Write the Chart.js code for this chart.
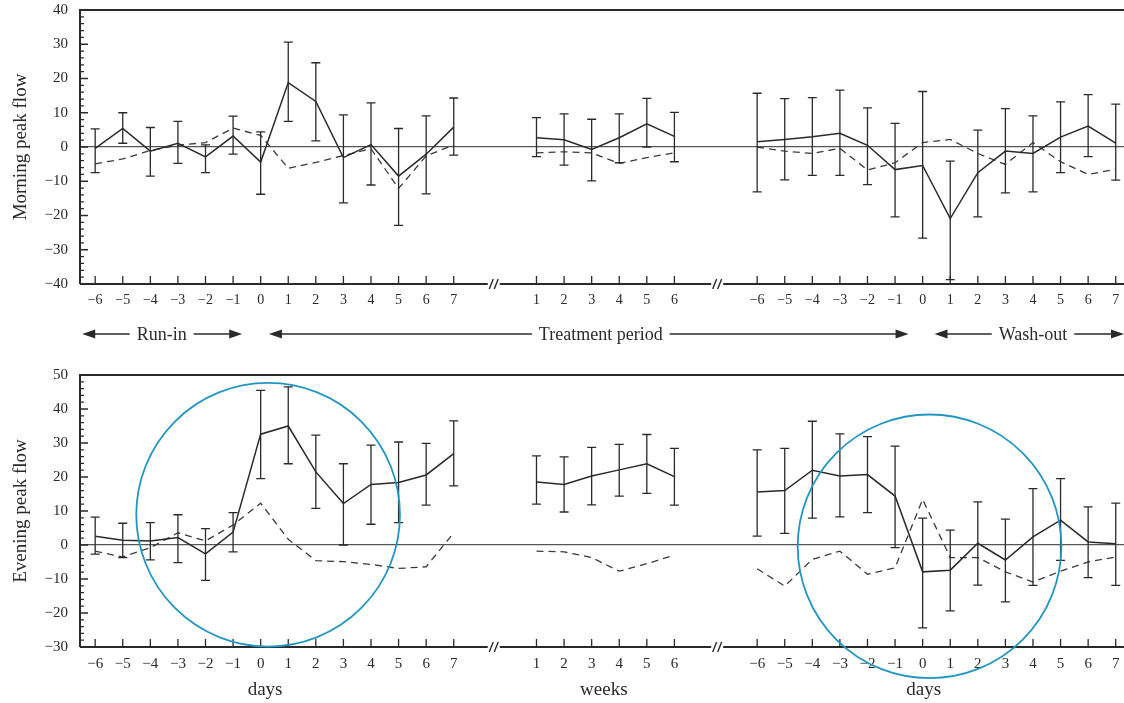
<!DOCTYPE html>
<html>
<head>
<meta charset="utf-8">
<script src="https://cdn.jsdelivr.net/npm/chart.js@4.4.1/dist/chart.umd.min.js"></script>
<style>
  body { margin: 0; background: #fff; }
  #wrap { position: relative; width: 1124px; height: 703px; }
  .panel { position: absolute; left: 0; width: 1124px; }
</style>
</head>
<body>
<div id="wrap">
  <div class="panel" style="top:0;height:355px"><canvas id="morning"></canvas></div>
  <div class="panel" style="top:355px;height:348px"><canvas id="evening"></canvas></div>
</div>
<script>
const FONT = "'Liberation Serif', 'DejaVu Serif', serif";
const INK = '#2a2a2a';

// x axis: run-in/treatment days, treatment weeks, wash-out days
const dayLabels = ['−6', '−5', '−4', '−3', '−2', '−1', '0', '1', '2', '3', '4', '5', '6', '7'];
const weekLabels = ['1', '2', '3', '4', '5', '6'];
const segmentLabels = [dayLabels, weekLabels, dayLabels];
const segmentStarts = [0, 16, 24];
const breakAt = [14.45, 22.55];

// morning peak flow (solid = mean with error bars, dashed = comparison)
const morningMean = [-0.4, 5.4, -1.2, 1.1, -2.9, 3.2, -4.4, 18.8, 13.3, -3.1, 0.7, -8.5, -2.1, 5.8,
  2.7, 2.1, -0.7, 2.7, 6.8, 3.1,
  1.5, 2.2, 3.0, 4.0, 0.5, -6.6, -5.4, -20.9, -7.5, -1.2, -1.9, 2.9, 6.1, 1.1];
const morningHigh = [5.3, 10, 5.7, 7.5, 0.6, 9, 4.4, 30.6, 24.6, 9.4, 12.9, 5.4, 9.1, 14.3,
  8.6, 9.7, 8.1, 9.7, 14.2, 10.1,
  15.7, 14.1, 14.4, 16.6, 11.4, 6.9, 16.2, -4.1, 4.9, 11.2, 9.1, 13.2, 15.3, 12.5];
const morningLow = [-7.5, 1.1, -8.5, -4.8, -7.5, -2.1, -13.8, 7.5, 1.8, -16.3, -11.1, -22.9, -13.7, -2.4,
  -2.8, -5.3, -9.9, -4.6, 0, -4.3,
  -13.1, -9.6, -8.3, -8.3, -11.0, -20.4, -26.6, -38.7, -20.4, -13.4, -13.1, -7.5, -2.8, -9.7];
const morningDashed = [-4.9, -3.5, -1.0, 0.5, 1.3, 5.5, 3.4, -6.2, -4.5, -2.5, -0.5, -12.1, -2.6, 0.6,
  -1.7, -1.4, -1.7, -4.8, -3.1, -1.7,
  0, -1.2, -1.9, -0.4, -6.7, -4.6, 1.3, 2.2, -1.9, -5.1, 1.3, -4.3, -8.0, -6.5];

// evening peak flow
const eveningMean = [2.6, 1.4, 1.2, 2.2, -2.6, 3.8, 32.6, 35.0, 21.5, 12.2, 17.8, 18.4, 20.6, 26.9,
  18.5, 17.8, 20.3, 22.1, 23.9, 20.1,
  15.6, 16.0, 22.0, 20.3, 20.7, 14.4, -7.9, -7.4, 0.5, -4.4, 2.4, 7.3, 0.9, 0.4];
const eveningHigh = [8.2, 6.4, 6.6, 8.9, 4.8, 9.5, 45.5, 46.5, 32.3, 23.9, 29.4, 30.3, 29.9, 36.5,
  26.2, 25.9, 28.7, 29.6, 32.5, 28.4,
  28.0, 28.4, 36.4, 32.7, 31.9, 29.1, 7.9, 4.4, 12.7, 7.6, 16.6, 19.5, 11.2, 12.3];
const eveningLow = [-2.7, -3.7, -4.4, -5.2, -10.4, -2.0, 19.5, 23.9, 10.8, 0, 6.1, 6.6, 11.7, 17.4,
  12.0, 9.7, 11.8, 14.4, 15.2, 11.7,
  2.6, 3.4, 7.9, 8.3, 9.5, -0.8, -24.4, -19.4, -11.8, -16.7, -11.9, -4.5, -9.6, -11.9];
const eveningDashed = [-1.8, -3.5, -0.8, 3.6, 1.2, 5.9, 12.3, 1.7, -4.6, -4.9, -5.7, -6.9, -6.4, 3.6,
  -1.8, -2.0, -3.7, -7.7, -5.5, -3.0,
  -7.0, -12.1, -4.2, -1.8, -8.6, -6.7, 13.4, -3.7, -3.7, -7.9, -10.9, -7.7, -5.0, -3.5];

const periods = [
  { text: 'Run-in', from: -0.47, to: 5.33, textAt: 2.41 },
  { text: 'Treatment period', from: 6.3, to: 29.49, textAt: 18.33 },
  { text: 'Wash-out', from: 30.43, to: 37.3, textAt: 34.0 }
];
const unitLabels = [
  { text: 'days', at: 6.16 },
  { text: 'weeks', at: 18.44 },
  { text: 'days', at: 30.04 }
];
// highlight circles (x in axis units, y in data units, radius in x units)
const highlights = [
  { x: 6.27, y: 8.9, r: 4.78 },
  { x: 30.25, y: -0.4, r: 4.78 }
];

const tickPos = [];
const tickText = {};
segmentLabels.forEach((labs, s) => labs.forEach((l, i) => {
  const p = segmentStarts[s] + i;
  tickPos.push(p);
  tickText[p] = l;
}));

function toPoints(values) {
  const pts = [];
  tickPos.forEach((p, i) => {
    if (i > 0 && p - tickPos[i - 1] > 1) pts.push({ x: (p + tickPos[i - 1]) / 2, y: null });
    pts.push({ x: p, y: values[i] });
  });
  return pts;
}

const errorBars = {
  id: 'errorBars',
  afterDatasetsDraw(chart) {
    const { ctx, chartArea: a, scales: { x, y } } = chart;
    ctx.save();
    ctx.beginPath();
    ctx.rect(a.left, a.top - 2, a.right - a.left, a.bottom - a.top + 4);
    ctx.clip();
    ctx.strokeStyle = INK;
    ctx.lineWidth = 1.3;
    ctx.beginPath();
    chart.data.datasets.forEach(ds => {
      if (!ds.errLow) return;
      ds.errLow.forEach((lo, i) => {
        const px = x.getPixelForValue(tickPos[i]);
        const y1 = y.getPixelForValue(lo), y2 = y.getPixelForValue(ds.errHigh[i]);
        ctx.moveTo(px, y1); ctx.lineTo(px, y2);
        ctx.moveTo(px - 4.5, y1); ctx.lineTo(px + 4.5, y1);
        ctx.moveTo(px - 4.5, y2); ctx.lineTo(px + 4.5, y2);
      });
    });
    ctx.stroke();
    ctx.restore();
  }
};

function drawArrow(ctx, x1, x2, y, tx, text) {
  const w = ctx.measureText(text).width;
  const g1 = tx - w / 2 - 7, g2 = tx + w / 2 + 7;
  ctx.beginPath();
  ctx.moveTo(x1 + 8, y); ctx.lineTo(g1, y);
  ctx.moveTo(g2, y); ctx.lineTo(x2 - 8, y);
  ctx.stroke();
  ctx.beginPath();
  ctx.moveTo(x1, y); ctx.lineTo(x1 + 13, y - 4.5); ctx.lineTo(x1 + 13, y + 4.5); ctx.closePath();
  ctx.moveTo(x2, y); ctx.lineTo(x2 - 13, y - 4.5); ctx.lineTo(x2 - 13, y + 4.5); ctx.closePath();
  ctx.fill();
  ctx.fillText(text, tx, y + 1);
}

const panelDecor = {
  id: 'panelDecor',
  afterDraw(chart, args, o) {
    const { ctx, chartArea: a, scales: { x, y } } = chart;
    ctx.save();
    ctx.strokeStyle = INK;
    ctx.fillStyle = INK;

    // frame: left, top, broken bottom axis
    ctx.lineWidth = 2;
    ctx.beginPath();
    ctx.moveTo(a.left, a.bottom); ctx.lineTo(a.left, a.top); ctx.lineTo(a.right, a.top);
    let start = a.left;
    breakAt.forEach(b => {
      const bx = x.getPixelForValue(b);
      ctx.moveTo(start, a.bottom); ctx.lineTo(bx - 6, a.bottom);
      start = bx + 6;
    });
    ctx.moveTo(start, a.bottom); ctx.lineTo(a.right, a.bottom);
    ctx.stroke();

    ctx.lineWidth = 1.4;
    ctx.beginPath();
    breakAt.forEach(b => {
      const bx = x.getPixelForValue(b);
      [-2.5, 2.5].forEach(d => {
        ctx.moveTo(bx + d - 2, a.bottom + 5);
        ctx.lineTo(bx + d + 2, a.bottom - 5);
      });
    });
    ctx.stroke();

    // inward tick marks
    ctx.lineWidth = 1.3;
    ctx.beginPath();
    tickPos.forEach(p => {
      const px = x.getPixelForValue(p);
      ctx.moveTo(px, a.bottom); ctx.lineTo(px, a.bottom - 8);
    });
    for (let v = y.min; v <= y.max; v += 2) {
      const py = y.getPixelForValue(v);
      const len = v % 10 === 0 ? 8 : 4;
      ctx.moveTo(a.left, py); ctx.lineTo(a.left + len, py);
    }
    ctx.stroke();

    ctx.textAlign = 'center';
    ctx.textBaseline = 'middle';
    if (o.units) {
      ctx.font = '19px ' + FONT;
      o.units.forEach(u => ctx.fillText(u.text, x.getPixelForValue(u.at), o.unitY));
    }
    if (o.periods) {
      ctx.font = '18px ' + FONT;
      ctx.lineWidth = 1.4;
      o.periods.forEach(p => drawArrow(ctx, x.getPixelForValue(p.from), x.getPixelForValue(p.to),
        o.periodY, x.getPixelForValue(p.textAt), p.text));
    }
    if (o.circles) {
      const unit = x.getPixelForValue(1) - x.getPixelForValue(0);
      ctx.strokeStyle = '#2196c4';
      ctx.lineWidth = 1.8;
      o.circles.forEach(c => {
        ctx.beginPath();
        ctx.arc(x.getPixelForValue(c.x), y.getPixelForValue(c.y), c.r * unit, 0, Math.PI * 2);
        ctx.stroke();
      });
    }
    ctx.restore();
  }
};

function makePanel(id, p) {
  return new Chart(document.getElementById(id), {
    type: 'line',
    data: {
      datasets: [
        { label: 'mean', data: toPoints(p.mean), errLow: p.low, errHigh: p.high,
          borderColor: INK, borderWidth: 1.5, pointRadius: 0, tension: 0, spanGaps: false },
        { label: 'comparison', data: toPoints(p.dashed), borderColor: '#3a3a3a', borderWidth: 1.3,
          borderDash: [7, 5], pointRadius: 0, tension: 0, spanGaps: false }
      ]
    },
    options: {
      responsive: true,
      maintainAspectRatio: false,
      animation: false,
      devicePixelRatio: 1,
      layout: { padding: { top: p.padTop, left: 0, right: 0, bottom: 0 } },
      plugins: { legend: { display: false }, tooltip: { enabled: false }, panelDecor: p.decor },
      scales: {
        x: {
          type: 'linear', min: -0.55, max: 37.3,
          grid: { display: false, drawTicks: false },
          border: { display: false },
          afterBuildTicks: s => { s.ticks = tickPos.map(v => ({ value: v })); },
          afterFit: s => { s.height = p.xHeight; s.paddingLeft = 0; s.paddingRight = 0; },
          ticks: {
            autoSkip: false, maxRotation: 0, padding: 8, color: INK,
            font: { family: FONT, size: p.xFont },
            callback: v => tickText[v] ?? ''
          }
        },
        y: {
          min: p.yMin, max: p.yMax,
          afterFit: s => { s.width = 80; s.paddingTop = 0; s.paddingBottom = 0; },
          grid: {
            drawTicks: false, lineWidth: 1.2,
            color: c => (c.tick && c.tick.value === 0 ? '#555' : 'rgba(0,0,0,0)')
          },
          border: { display: false },
          ticks: {
            stepSize: 10, padding: 12, color: INK,
            font: { family: FONT, size: 15 },
            callback: v => (v < 0 ? '−' + Math.abs(v) : String(v))
          },
          title: {
            display: true, text: p.title, color: INK,
            font: { family: FONT, size: 19 },
            padding: { top: 10, bottom: 0 }
          }
        }
      }
    },
    plugins: [errorBars, panelDecor]
  });
}

makePanel('morning', {
  mean: morningMean, high: morningHigh, low: morningLow, dashed: morningDashed,
  yMin: -40, yMax: 40, title: 'Morning peak flow', padTop: 10, xHeight: 71, xFont: 14,
  decor: { periods: periods, periodY: 334 }
});

makePanel('evening', {
  mean: eveningMean, high: eveningHigh, low: eveningLow, dashed: eveningDashed,
  yMin: -30, yMax: 50, title: 'Evening peak flow', padTop: 20, xHeight: 56, xFont: 15,
  decor: { units: unitLabels, unitY: 335, circles: highlights }
});
</script>
</body>
</html>
